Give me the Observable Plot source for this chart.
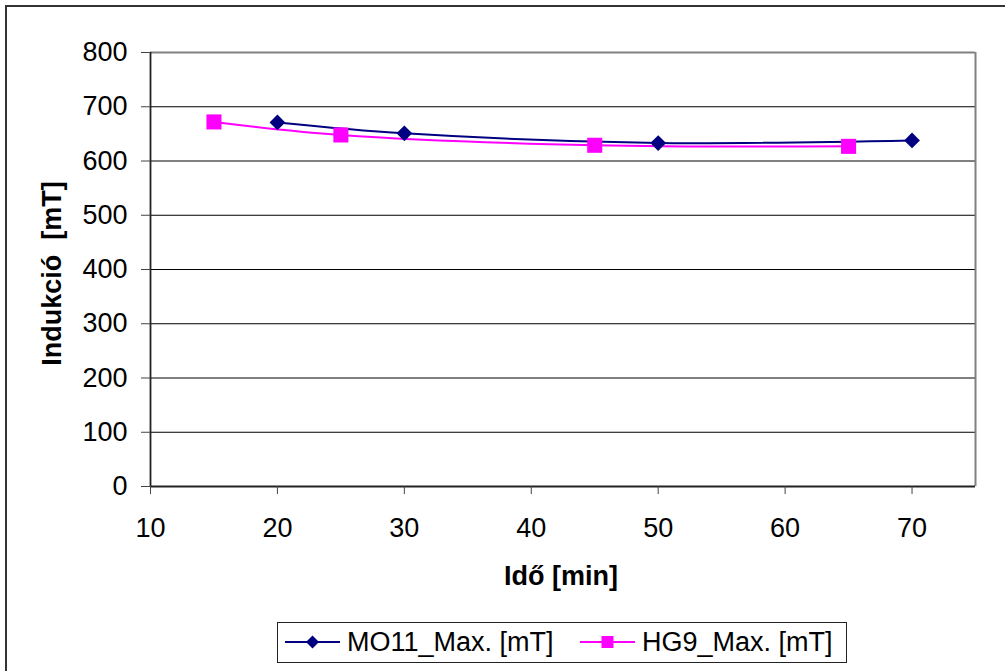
<!DOCTYPE html>
<html>
<head>
<meta charset="utf-8">
<script src="https://cdn.jsdelivr.net/npm/d3@7"></script>
<script src="https://cdn.jsdelivr.net/npm/@observablehq/plot@0.6"></script>
<style>
  html, body { margin: 0; padding: 0; background: #fff; overflow: hidden; }
  body { width: 1005px; height: 671px; position: relative; font-family: "Liberation Sans", Arial, sans-serif; }
  #outer { position: absolute; left: 5px; top: 5px; width: 1200px; height: 900px; border: 2px solid #333; }
  #chart { position: absolute; left: 0; top: 0; }
  #legend { position: absolute; left: 277px; top: 622px; width: 568px; height: 39px; border: 1px solid #222; background: #fff; }
  .item-swatch { position: absolute; top: 8px; }
  .item-label { position: absolute; top: 2px; font-size: 27px; line-height: 34px; color: #000; white-space: nowrap; }
</style>
</head>
<body>
<div id="outer"></div>
<div id="chart"></div>
<div id="legend"></div>
<script>
// Measurement times (min) and maximum induction (mT) for the two samples
const mo11Time = [20, 30, 50, 70];
const mo11Max = [671, 651, 633, 638];
const hg9Time = [15, 25, 45, 65];
const hg9Max = [672, 648, 629, 627];

const seriesNames = ["MO11_Max. [mT]", "HG9_Max. [mT]"];
const seriesColors = ["#000080", "#FF00FF"];
const seriesSymbols = ["diamond2", "square"];

const xTicks = [10, 20, 30, 40, 50, 60, 70];
const yTicks = [0, 100, 200, 300, 400, 500, 600, 700, 800];
const gridValues = [100, 200, 300, 400, 500, 600, 700];

const xTitle = "Idő [min]";
const yTitle = "Indukció\u00a0 [mT]";

const mo11 = mo11Time.map((t, i) => ({t, v: mo11Max[i]}));
const hg9 = hg9Time.map((t, i) => ({t, v: hg9Max[i]}));

const font = "'Liberation Sans', Arial, Helvetica, sans-serif";

const chart = Plot.plot({
  width: 1005,
  height: 600,
  marginLeft: 150,
  marginRight: 30,
  marginTop: 52,
  marginBottom: 114,
  style: {fontFamily: font, fontSize: "27px", background: "transparent", overflow: "visible", color: "#000"},
  x: {domain: [10, 75]},
  y: {domain: [0, 800]},
  marks: [
    // horizontal gridlines
    Plot.ruleY(gridValues, {stroke: "#000", strokeWidth: 1}),
    // plot-area frame: grey top and right edges
    Plot.ruleY([800], {stroke: "#808080", strokeWidth: 2}),
    Plot.ruleX([75], {stroke: "#808080", strokeWidth: 2}),
    // axis lines
    Plot.ruleX([10], {stroke: "#222", strokeWidth: 1.8}),
    Plot.ruleY([0], {stroke: "#222", strokeWidth: 1.8}),
    Plot.axisX(xTicks, {tickSize: 8, tickPadding: 23, label: null, stroke: "#444", fontSize: 27}),
    Plot.axisY(yTicks, {tickSize: 9, tickPadding: 14, label: null, stroke: "#444", fontSize: 27}),
    // smoothed series lines
    Plot.line(hg9, {x: "t", y: "v", stroke: seriesColors[1], strokeWidth: 2, curve: "catmull-rom"}),
    Plot.line(mo11, {x: "t", y: "v", stroke: seriesColors[0], strokeWidth: 2, curve: "catmull-rom"}),
    // markers
    Plot.dot(hg9, {x: "t", y: "v", symbol: seriesSymbols[1], r: 8.5, fill: seriesColors[1]}),
    Plot.dot(mo11, {x: "t", y: "v", symbol: seriesSymbols[0], r: 7.1, fill: seriesColors[0]}),
    // axis titles
    Plot.text([xTitle], {text: d => d, frameAnchor: "bottom", textAnchor: "middle", lineAnchor: "middle", dx: -2, dy: 90, fontWeight: "bold", fontSize: 27}),
    Plot.text([yTitle], {text: d => d, frameAnchor: "left", textAnchor: "middle", lineAnchor: "middle", rotate: -90, dx: -98, dy: 4, fontWeight: "bold", fontSize: 27})
  ]
});
document.getElementById("chart").appendChild(chart);

// legend: line-with-marker swatch followed by the series name
const legend = d3.select("#legend");
const swatchLeft = [7, 302];
const labelLeft = [69, 364];
seriesNames.forEach((name, i) => {
  const sw = legend.append("svg")
    .attr("class", "item-swatch")
    .attr("width", 56).attr("height", 22)
    .style("left", swatchLeft[i] + "px");
  sw.append("line")
    .attr("x1", 0).attr("x2", 55).attr("y1", 11).attr("y2", 11)
    .attr("stroke", seriesColors[i]).attr("stroke-width", 2);
  const sym = i === 0 ? d3.symbolDiamond2 : d3.symbolSquare;
  const size = i === 0 ? 108 : 144;
  sw.append("path")
    .attr("transform", "translate(27.5,11)")
    .attr("d", d3.symbol(sym, size)())
    .attr("fill", seriesColors[i]);
  legend.append("span")
    .attr("class", "item-label")
    .style("left", labelLeft[i] + "px")
    .text(name);
});
</script>
</body>
</html>
